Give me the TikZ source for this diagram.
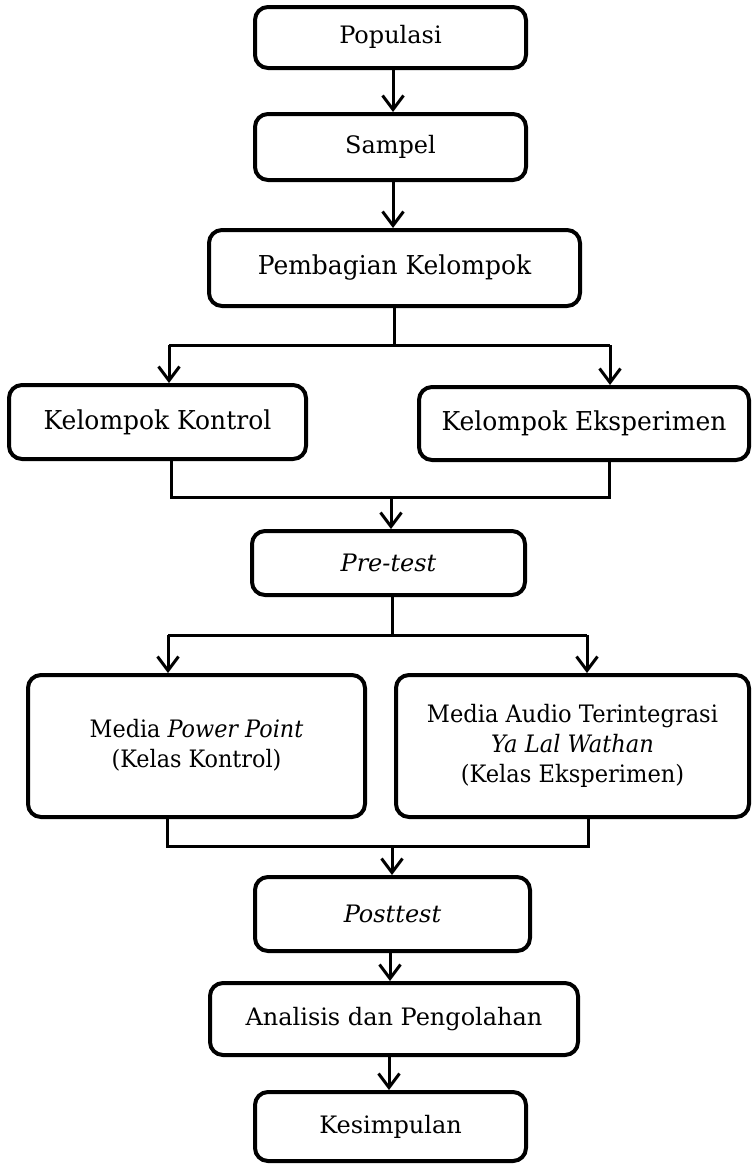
\documentclass[tikz,border=0pt]{standalone}
\usepackage{fontspec}
\setmainfont{DejaVu Serif}
\usetikzlibrary{arrows.meta}
\begin{document}
\begin{tikzpicture}[x=1pt,y=-1pt,
  box/.style={draw, line width=4pt, rounded corners=13pt, align=center,
    font=\fontsize{24}{30}\selectfont, inner sep=0pt},
  conn/.style={line width=3pt},
  arr/.style={line width=3pt, -{Straight Barb[length=14pt,width=21pt]}}]
\useasboundingbox (0,0) rectangle (754,1165);
% boxes
\node[box, minimum width=271, minimum height=61] (pop) at (390.5,37.5) {Populasi\vphantom{y}};
\node[box, minimum width=271, minimum height=66] (sam) at (390.5,147) {Sampel};
\node[box, minimum width=371, minimum height=76, font=\fontsize{26}{30}\selectfont] (pem) at (394.5,268) {\scalebox{0.96}[1]{Pembagian Kelompok}};
\node[box, minimum width=297, minimum height=74, font=\fontsize{26}{30}\selectfont] (kk) at (157.5,422) {\scalebox{0.96}[1]{Kelompok Kontrol}};
\node[box, minimum width=330, minimum height=73, font=\fontsize{26}{30}\selectfont] (ke) at (584,423.5) {\scalebox{0.96}[1]{Kelompok Eksperimen}};
\node[box, minimum width=273, minimum height=64] (pre) at (388.5,563) {\textit{Pre-test}};
\node[box, minimum width=337, minimum height=142] (mp) at (196.5,746) {\scalebox{0.93}[1]{\begin{tabular}{@{}c@{}}Media \textit{Power Point}\\(Kelas Kontrol)\end{tabular}}};
\node[box, minimum width=353, minimum height=142] (ma) at (572.5,746) {\scalebox{0.94}[1]{\begin{tabular}{@{}c@{}}Media Audio Terintegrasi\\\textit{Ya Lal Wathan}\\(Kelas Eksperimen)\end{tabular}}};
\node[box, minimum width=275, minimum height=74] (post) at (392.5,914) {\textit{Posttest}};
\node[box, minimum width=368, minimum height=72] (ana) at (394,1019) {Analisis dan Pengolahan};
\node[box, minimum width=271, minimum height=69] (kes) at (390.5,1126.5) {Kesimpulan};
% junction coordinates
\coordinate (j1) at (394,345);
\coordinate (j1l) at (169,345);
\coordinate (j1r) at (610,345);
\coordinate (j2) at (391,497);
\coordinate (j2l) at (171,497);
\coordinate (j2r) at (609,497);
\coordinate (j3) at (392,635);
\coordinate (j3l) at (168,635);
\coordinate (j3r) at (587,635);
\coordinate (j4) at (392,846);
\coordinate (j4l) at (167,846);
\coordinate (j4r) at (588,846);
% connectors
\draw[arr] (pop.south -| 393,0) -- (sam.north -| 393,0);
\draw[arr] (sam.south -| 393,0) -- (pem.north -| 393,0);
\draw[conn] (pem.south -| j1) -- (j1);
\draw[conn] (j1l) -- (j1r);
\draw[arr] (j1l) -- (kk.north -| j1l);
\draw[arr] (j1r) -- (ke.north -| j1r);
\draw[conn] (kk.south -| j2l) -- (j2l) -- (j2r) -- (ke.south -| j2r);
\draw[arr] (j2) -- (pre.north -| j2);
\draw[conn] (pre.south -| j3) -- (j3);
\draw[conn] (j3l) -- (j3r);
\draw[arr] (j3l) -- (mp.north -| j3l);
\draw[arr] (j3r) -- (ma.north -| j3r);
\draw[conn] (mp.south -| j4l) -- (j4l) -- (j4r) -- (ma.south -| j4r);
\draw[arr] (j4) -- (post.north -| j4);
\draw[arr] (post.south -| 390,0) -- (ana.north -| 390,0);
\draw[arr] (ana.south -| 389,0) -- (kes.north -| 389,0);
\end{tikzpicture}
\end{document}
